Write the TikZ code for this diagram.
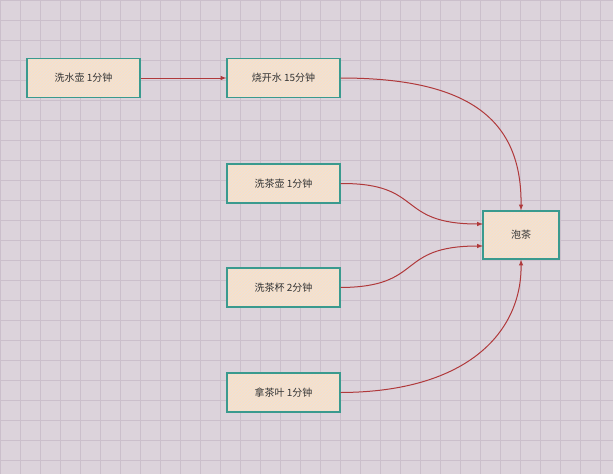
\documentclass[tikz,border=0pt]{standalone}
\usepackage{fontspec}
\newfontfamily\cjk{Noto Sans CJK SC}
\usetikzlibrary{patterns}
\definecolor{bg}{HTML}{DCD3DB}
\definecolor{gridc}{HTML}{CBBFCB}
\definecolor{boxfill}{HTML}{EEE2D6}
\definecolor{boxline}{HTML}{3A9A8E}
\definecolor{arr}{HTML}{B0393B}
\begin{document}
\begin{tikzpicture}[x=1pt,y=-1pt,
  box/.style={preaction={fill=boxfill},pattern=north east lines,pattern color=orange!25,draw=boxline,line width=1.2pt,
    minimum width=113pt,minimum height=39pt,font=\cjk\fontsize{10}{12}\selectfont,text=black!80,inner sep=0pt},
  con/.style={draw=arr,line width=1pt,-latex}]
\fill[bg] (0,0) rectangle (613,474);
\useasboundingbox (0,0) rectangle (613,474);
\foreach \i in {0,20,...,600} \draw[gridc,line width=0.4pt] (\i,0) -- (\i,474);
\foreach \j in {0,20,...,460} \draw[gridc,line width=0.4pt] (0,\j) -- (613,\j);
\node[box] (a) at (83.5,78) {洗水壶 1分钟};
\node[box] (b) at (283.5,78) {烧开水 15分钟};
\node[box] (c) at (283.5,183.5) {洗茶壶 1分钟};
\node[box] (d) at (283.5,287.5) {洗茶杯 2分钟};
\node[box] (e) at (283.5,392.5) {拿茶叶 1分钟};
\node[box,minimum width=76pt,minimum height=48pt] (t) at (521,235) {泡茶};
\coordinate (t1) at (483,224);
\coordinate (t2) at (483,246);
\draw[con] (a) -- (b);
\draw[con] (b.east) .. controls (470,78) and (522,120) .. (t.north);
\draw[con] (c.east) .. controls (425,183) and (395,224) .. (t1);
\draw[con] (d.east) .. controls (425,287) and (395,246) .. (t2);
\draw[con] (e.east) .. controls (470,392) and (522,330) .. (t.south);
\end{tikzpicture}
\end{document}
